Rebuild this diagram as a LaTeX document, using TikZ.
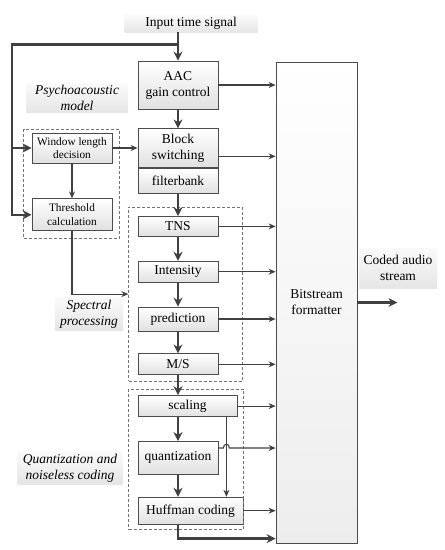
\documentclass[tikz,border=0pt]{standalone}
\usepackage{fontspec}
\setmainfont{Liberation Serif}
\usetikzlibrary{arrows.meta}
\usetikzlibrary{calc}
\usetikzlibrary{fit}
\usetikzlibrary{positioning}

\begin{document}
\begin{tikzpicture}[x=1pt,y=-1pt,node distance=22pt and 20pt,
		box/.style={draw=black!70,line width=0.8pt,top color=white,bottom color=black!12,
			font=\fontsize{13.5}{16}\selectfont,align=center,inner sep=2pt,minimum width=80pt},
		smallbox/.style={box,font=\fontsize{11.3}{13.5}\selectfont},
		tag/.style={top color=black!2,bottom color=black!10,align=center,inner sep=2pt,
			font=\fontsize{13.5}{16}\selectfont},
		itag/.style={tag,font=\fontsize{13.5}{16}\selectfont\itshape},
		dbox/.style={draw=black!55,densely dashed,line width=0.5pt,inner sep=0pt},
		link/.style={draw=black!75,line width=1.1pt,-{Stealth[length=7pt,width=6pt]}},
		bus/.style={draw=black!75,line width=2.6pt,-{Stealth[length=9pt,width=9pt]}}]
		\useasboundingbox (0,0) rectangle (445,550);

		\node [tag,minimum width=133pt,minimum height=17pt] (input) at (191,23.5) {Input time signal};
		\node [box,minimum height=48pt] (aac) at (178,85) {AAC\\gain control};
		\node [box,minimum height=39pt,below=19pt of aac] (blk) {Block\\switching};
		\node [box,minimum height=25pt,below=0pt of blk] (fb) {filterbank};
		\node [box,minimum height=20pt,below=of fb] (tns) {TNS};
		\node [box,minimum height=21pt,below=24pt of tns] (int) {Intensity};
		\node [box,minimum height=24pt,below=24pt of int] (pred) {prediction};
		\node [box,minimum height=21pt,below=of pred] (ms) {M/S};
		\node [box,minimum width=99pt,minimum height=21pt,below=20pt of ms.south west,anchor=north west] (scal) {scaling};
		\node [box,minimum height=33pt,below=24pt of scal.south west,anchor=north west] (quant) {quantization};
		\node [box,minimum width=105pt,minimum height=27pt,below=of quant.south west,anchor=north west] (huff) {Huffman coding};

		\node [smallbox,minimum height=30pt] (win) at (72,148) {Window length\\decision};
		\node [smallbox,minimum height=32pt,below=35pt of win] (thr) {Threshold\\calculation};

		\node [box,bottom color=black!7,minimum width=81pt,minimum height=481pt] (bs) at (316.5,302.5) {Bitstream\\formatter};
		\node [tag,minimum width=78pt,minimum height=40pt] (coded) at (398,268) {Coded audio\\stream};
		\coordinate [right=40pt of bs.east] (out);

		\node [itag,minimum width=102pt,minimum height=27pt] (psy) at (77,98) {Psychoacoustic\\model};
		\node [itag,minimum width=68pt,minimum height=30pt] (spl) at (89,314) {Spectral\\processing};
		\node [itag,minimum width=105pt,minimum height=30pt] (qnl) at (70,468) {Quantization and\\noiseless coding};

		\node [dbox,fit={([xshift=-8pt,yshift=3pt]win.north west) ([xshift=7pt,yshift=-7pt]thr.south east)}] (pbox) {};
		\node [dbox,fit={([xshift=-9pt,yshift=9pt]tns.north west) ([xshift=24pt,yshift=-6pt]ms.south east)}] (spec) {};
		\node [dbox,fit={([xshift=-9pt,yshift=6pt]scal.north west) ([yshift=-5pt]huff.south east)}] (qbox) {};

		\coordinate (split) at ($(input.south -| aac.north)+(0,12)$);
		\draw [bus] (input.south -| aac.north) -- (aac.north);
		\draw [bus] (split) -- ++(-166,0) coordinate (bend) |- (thr.west);
		\draw [bus] (bend |- win.west) -- (win.west);

		\draw [bus] (aac.south) -- (blk.north);
		\draw [bus] (fb.south) -- (tns.north);
		\draw [bus] (tns.south) -- (int.north);
		\draw [bus] (int.south) -- (pred.north);
		\draw [bus] (pred.south) -- (ms.north);
		\draw [bus] (ms.south) -- (ms.south |- scal.north);
		\draw [bus] (quant.north |- scal.south) -- (quant.north);
		\draw [bus] (quant.south) -- (quant.south |- huff.north);
		\draw [bus] (quant.south |- huff.south) |- ($(huff.south -| bs.west)+(0,14)$);
		\draw [bus] (bs.east) -- (out);

		\draw [link] (win.east) -- (win.east -| blk.west);
		\draw [link] (win.south) -- (thr.north);
		\draw [link] (thr.south) |- (spec.west);

		\coordinate (bout) at ([yshift=-8pt]blk.east);
		\coordinate (qout) at ([yshift=-7pt]quant.north east);
		\coordinate (tap) at ([xshift=-11pt]scal.south east);
		\coordinate (hop) at (tap |- qout);

		\draw [link] (aac.east) -- (aac.east -| bs.west);
		\draw [link] (bout) -- (bout -| bs.west);
		\draw [link] (tns.east) -- (tns.east -| bs.west);
		\draw [link] (int.east) -- (int.east -| bs.west);
		\draw [link] (pred.east) -- (pred.east -| bs.west);
		\draw [link] (ms.east) -- (ms.east -| bs.west);
		\draw [link] (scal.east) -- (scal.east -| bs.west);
		\draw [link] (tap) -- (tap |- huff.north);
		\draw [link] (qout) -- ([xshift=-3pt]hop) .. controls ([xshift=-3pt,yshift=5pt]hop) and ([xshift=3pt,yshift=5pt]hop) .. ([xshift=3pt]hop) -- (qout -| bs.west);
		\draw [link] (huff.east) -- (huff.east -| bs.west);
	\end{tikzpicture}
\end{document}
